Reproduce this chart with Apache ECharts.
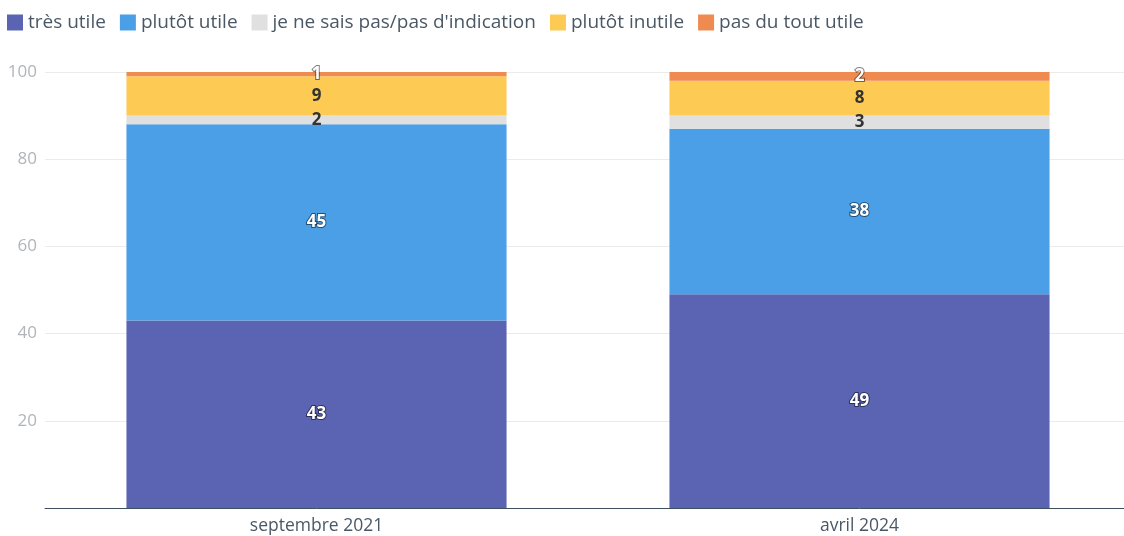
<!DOCTYPE html>
<html>
<head>
<meta charset="utf-8">
<script src="https://cdn.jsdelivr.net/npm/echarts@6/dist/echarts.min.js"></script>
<style>
html, body { margin: 0; padding: 0; background: #fff; overflow: hidden; }
#chart { width: 1131px; height: 536px; }
</style>
</head>
<body>
<div id="chart"></div>
<script>
var categories = ['septembre 2021', 'avril 2024'];
var seriesNames = ['très utile', 'plutôt utile', 'je ne sais pas/pas d\'indication', 'plutôt inutile', 'pas du tout utile'];
var tresUtile = [43, 49];
var plutotUtile = [45, 38];
var nsp = [2, 3];
var plutotInutile = [9, 8];
var pasDuTout = [1, 2];

var colors = ['#5a64b2', '#4a9fe7', '#e0e0e0', '#fdca54', '#ef8a50'];
var labelDark = [false, false, true, true, false];
var allData = [tresUtile, plutotUtile, nsp, plutotInutile, pasDuTout];

var chart = echarts.init(document.getElementById('chart'));

var series = [];
for (var i = 0; i < seriesNames.length; i++) {
    series.push({
        name: seriesNames[i],
        type: 'bar',
        stack: 'total',
        barWidth: '70%',
        data: allData[i],
        itemStyle: { color: colors[i] },
        label: {
            show: true,
            position: 'inside',
            fontFamily: 'Open Sans',
            fontWeight: 'bold',
            fontSize: 17,
            color: labelDark[i] ? '#333' : '#fff',
            textBorderColor: labelDark[i] ? 'transparent' : 'rgba(0,0,0,0.5)',
            textBorderWidth: labelDark[i] ? 0 : 2
        }
    });
}

var option = {
    animation: false,
    color: colors,
    legend: {
        left: 2,
        top: 8,
        itemWidth: 16,
        itemHeight: 16,
        itemGap: 14,
        icon: 'rect',
        textStyle: { fontFamily: 'Open Sans', fontSize: 19, color: '#4a5866' }
    },
    // la zone de tracé dépasse un peu à droite, comme sur l'original
    grid: { left: 45, right: 0, top: 72, bottom: 28, containLabel: false },
    xAxis: {
        type: 'category',
        data: categories,
        axisTick: { show: false },
        axisLine: { lineStyle: { color: '#3d4f5f', width: 1 } },
        axisLabel: { fontFamily: 'Open Sans', fontSize: 17.5, color: '#4a5866', margin: 9 }
    },
    yAxis: {
        type: 'value',
        min: 0,
        max: 100,
        interval: 20,
        axisLine: { show: false },
        axisTick: { show: false },
        splitLine: { lineStyle: { color: '#ebebeb' } },
        axisLabel: {
            fontFamily: 'Open Sans', fontSize: 17, color: '#b0b5ba', margin: 8,
            formatter: function (v) { return v === 0 ? '' : v; }
        }
    },
    series: series
};

chart.setOption(option);
</script>
</body>
</html>
